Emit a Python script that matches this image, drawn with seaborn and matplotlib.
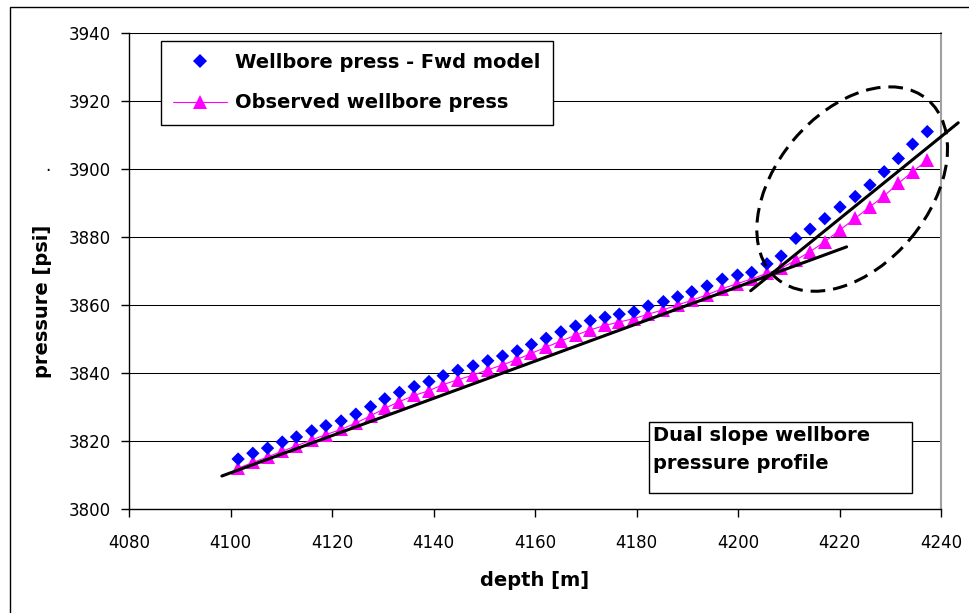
import matplotlib
matplotlib.use("Agg")
import matplotlib.pyplot as plt
import seaborn as sns
import numpy as np
from matplotlib.patches import Ellipse, Rectangle
from matplotlib.lines import Line2D
from matplotlib.transforms import ScaledTranslation

# ---------------- data ----------------
depth = [4101.5, 4104.4, 4107.3, 4110.2, 4113.0, 4116.0, 4118.8, 4121.8,
         4124.7, 4127.6, 4130.4, 4133.3, 4136.2, 4139.1, 4141.9, 4144.8,
         4147.8, 4150.7, 4153.6, 4156.5, 4159.3, 4162.2, 4165.1, 4168.0,
         4170.9, 4173.8, 4176.6, 4179.5, 4182.3, 4185.3, 4188.1, 4190.9,
         4193.9, 4196.9, 4199.9, 4202.7, 4205.7, 4208.5, 4211.4, 4214.2,
         4217.1, 4220.1, 4223.1, 4226.0, 4228.8, 4231.6, 4234.4, 4237.3]

fwd_model = [3814.7, 3816.4, 3817.9, 3819.7, 3821.2, 3823.0, 3824.5, 3825.9,
             3827.9, 3830.1, 3832.4, 3834.3, 3836.0, 3837.5, 3839.2, 3840.8,
             3842.1, 3843.6, 3845.0, 3846.5, 3848.4, 3850.2, 3852.1, 3853.8,
             3855.4, 3856.4, 3857.3, 3858.0, 3859.7, 3861.0, 3862.4, 3863.9,
             3865.6, 3867.6, 3868.8, 3869.6, 3872.1, 3874.4, 3879.6, 3882.3,
             3885.4, 3888.8, 3891.9, 3895.3, 3899.2, 3903.1, 3907.3, 3911.0]

observed = [3812.0, 3813.7, 3815.3, 3817.0, 3818.6, 3820.3, 3821.9, 3823.4,
            3825.3, 3827.4, 3829.6, 3831.6, 3833.4, 3834.8, 3836.6, 3838.0,
            3839.4, 3840.9, 3842.4, 3844.0, 3845.8, 3847.6, 3849.4, 3851.1,
            3852.7, 3854.0, 3855.0, 3856.0, 3857.3, 3858.6, 3860.0, 3861.4,
            3863.0, 3864.8, 3866.3, 3867.7, 3869.3, 3870.8, 3873.2, 3875.7,
            3878.6, 3882.1, 3885.5, 3888.9, 3892.1, 3895.8, 3899.2, 3902.6]

slope1_x = [4098.3, 4221.4]
slope1_y = [3809.7, 3877.1]
slope2_x = [4202.5, 4243.4]
slope2_y = [3864.2, 3913.6]

x_ticks = [4080, 4100, 4120, 4140, 4160, 4180, 4200, 4220, 4240]
y_ticks = [3800, 3820, 3840, 3860, 3880, 3900, 3920, 3940]

label_fwd = "Wellbore press - Fwd model"
label_obs = "Observed wellbore press"
note_text = "Dual slope wellbore\npressure profile"

# ---------------- style ----------------
sns.set_theme(style="white")
plt.rcParams['font.family'] = ['DejaVu Sans']
plt.rcParams['text.color'] = 'black'
plt.rcParams['axes.labelcolor'] = 'black'
plt.rcParams['xtick.color'] = 'black'
plt.rcParams['ytick.color'] = 'black'

W, H = 969, 613
fig = plt.figure(figsize=(W / 100, H / 100), dpi=100)
L, R, T, B = 129, 941, 33, 509
ax = fig.add_axes([L / W, 1 - B / H, (R - L) / W, (B - T) / H])
ax.set_facecolor("white")

# gridlines
ax.set_axisbelow(True)
ax.yaxis.grid(True, color="#000000", linewidth=0.75)
ax.xaxis.grid(False)

# data
sns.lineplot(x=depth, y=observed, ax=ax, color="#FF00FF", linewidth=0.8,
             marker="^", markersize=10, markeredgecolor="#FF00FF",
             markerfacecolor="#FF00FF", markeredgewidth=0, legend=False,
             zorder=3)
sns.scatterplot(x=depth, y=fwd_model, ax=ax, marker="D", s=46,
                color="#0000FF", edgecolor="none", linewidth=0, legend=False,
                zorder=4)

sns.lineplot(x=slope1_x, y=slope1_y, ax=ax, color="black", linewidth=2.2,
             legend=False, zorder=5)
sns.lineplot(x=slope2_x, y=slope2_y, ax=ax, color="black", linewidth=2.2,
             legend=False, zorder=5, clip_on=False)

# dashed ellipse (drawn in pixel-space around a data-space center)
etrans = fig.dpi_scale_trans + ScaledTranslation(4222.5, 3894.1, ax.transData)
ell = Ellipse((0, 0), 2.34, 1.53, angle=50, transform=etrans, fill=False,
              edgecolor="black", linewidth=2.2, linestyle=(0, (4.8, 2.6)),
              clip_on=False, zorder=6)
ax.add_patch(ell)

# axes
ax.set_xlim(4080, 4240)
ax.set_ylim(3800, 3940)
ax.set_xticks(x_ticks)
ax.set_yticks(y_ticks)
ax.tick_params(axis="both", which="major", direction="out", length=6,
               width=1, color="black", labelsize=12, labelcolor="black",
               bottom=True, left=True)
ax.tick_params(axis="x", pad=12)
ax.tick_params(axis="y", pad=7)

for side in ["left", "bottom"]:
    ax.spines[side].set_color("black")
    ax.spines[side].set_linewidth(1.0)
ax.spines["top"].set_color("black")
ax.spines["top"].set_linewidth(0.75)
ax.spines["right"].set_color("#a0a0a0")
ax.spines["right"].set_linewidth(1.5)

ax.set_xlabel("depth [m]", fontsize=14, fontweight="bold", color="black",
              va="center")
ax.xaxis.set_label_coords(0.5, (B - 580) / (B - T))
ax.set_ylabel("pressure [psi]", fontsize=14, fontweight="bold",
              color="black", va="center")
ax.yaxis.set_label_coords((43 - L) / (R - L), (B - 301) / (B - T))

# legend
handles = [
    Line2D([], [], linestyle="none", marker="D", markersize=6.8,
           color="#0000FF", markeredgewidth=0),
    Line2D([], [], linestyle="-", linewidth=0.8, color="#FF00FF",
           marker="^", markersize=10, markeredgewidth=0),
]
leg = ax.legend(handles, [label_fwd, label_obs], loc="upper left",
                bbox_to_anchor=(161 / W, 1 - 41 / H),
                bbox_transform=fig.transFigure, borderaxespad=0,
                frameon=True, fancybox=False, shadow=False,
                prop={"size": 14, "weight": "bold"}, handlelength=2.8,
                handletextpad=0.4, labelspacing=1.1, borderpad=0.62)
leg.get_frame().set_edgecolor("black")
leg.get_frame().set_linewidth(1.0)
leg.get_frame().set_facecolor("white")
leg.get_frame().set_alpha(1)
leg.set_zorder(10)
for t in leg.get_texts():
    t.set_color("black")

# annotation box
fig.patches.append(Rectangle((649 / W, 1 - 492.7 / H), (912 - 649) / W,
                             (492.7 - 421.7) / H, transform=fig.transFigure,
                             facecolor="white", edgecolor="black",
                             linewidth=1.0, zorder=20))
fig.text(653 / W, 1 - 426 / H, note_text, ha="left", va="top",
         fontsize=14, fontweight="bold", color="black", zorder=21,
         linespacing=1.6)

# stray dot near the y label
fig.text(48 / W, 1 - 166 / H, ".", ha="center", va="center",
         fontsize=12, color="black")

# outer border (left and top edges visible)
fig.patches.append(Rectangle((10 / W, -0.1), 1.2, 1.1 - 7 / H,
                             transform=fig.transFigure, fill=False,
                             edgecolor="black", linewidth=1.0))

fig.savefig("out.png", dpi=100, facecolor="white")
